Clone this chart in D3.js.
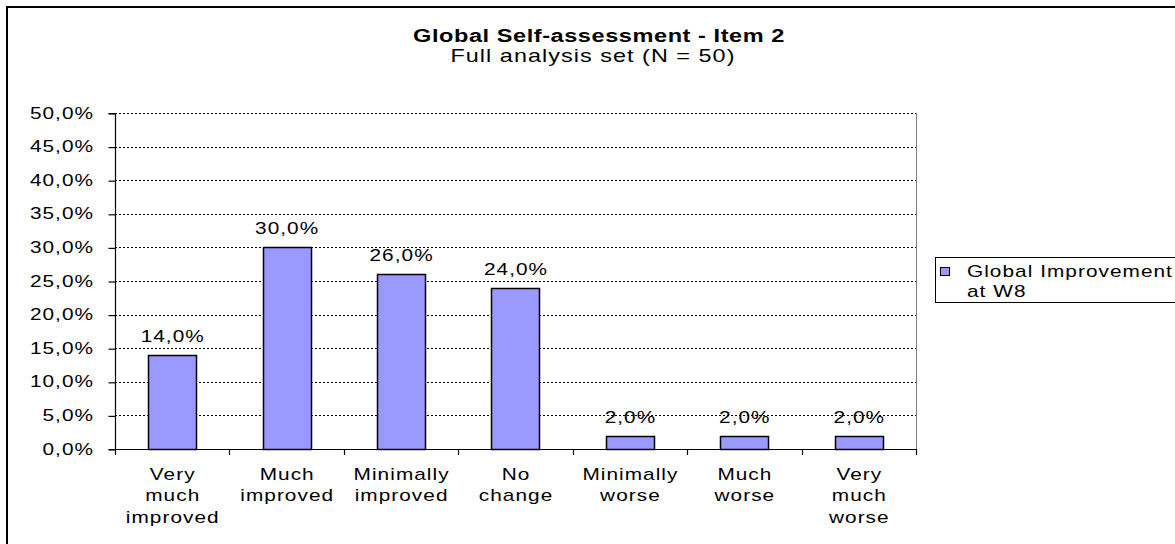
<!DOCTYPE html>
<html><head><meta charset="utf-8">
<script src="https://cdn.jsdelivr.net/npm/d3@7"></script>
<style>body{margin:0;background:#fff}svg{display:block;font-family:"Liberation Sans",Arial,sans-serif}
.t{font-size:16px;letter-spacing:0.8px}</style>
</head><body><svg id="c" width="1175" height="544"></svg>
<script>
const categories = [["Very","much","improved"],["Much","improved"],["Minimally","improved"],["No","change"],["Minimally","worse"],["Much","worse"],["Very","much","worse"]];
const values = [14.0, 30.0, 26.0, 24.0, 2.0, 2.0, 2.0];
const yTicks = [0,5,10,15,20,25,30,35,40,45,50];
const title = "Global Self-assessment - Item 2";
const subtitle = "Full analysis set (N = 50)";
const seriesName = ["Global Improvement","at W8"];

const svg = d3.select("#c");
const fmt = v => v.toFixed(1).replace(".", ",") + "%";
const L = 115, R = 916, T = 113, B = 449;
const SX = 1.3, LS = 0.8;

// horizontally stretched text helper
function sText(parent, x, y, lines, anchor, cls, sx) {
  const g = parent.append("g").attr("transform", `translate(${x},${y}) scale(${sx||SX},1)`);
  const t = g.append("text").attr("class", cls || "t").attr("text-anchor", anchor || "start");
  const arr = Array.isArray(lines) ? lines : [lines];
  arr.forEach((s,k)=>t.append("tspan").attr("x",0).attr("dy",k?21.5:0).text(s));
  return t;
}

svg.append("rect").attr("x",7).attr("y",7).attr("width",1180).attr("height",560)
  .attr("fill","#fff").attr("stroke","#000").attr("stroke-width",2);

sText(svg, 599, 42, title, "middle", null, 1.24).attr("class",null).attr("font-size",19).attr("font-weight","bold").attr("letter-spacing",0.45);
sText(svg, 593, 62, subtitle, "middle", null, 1.3).style("font-size","18px");

const x = d3.scaleBand().domain(d3.range(categories.length)).range([L,R]).paddingInner(0.58).paddingOuter(0.29);
const xb = d3.scaleBand().domain(d3.range(categories.length)).range([L,R]);
const y = d3.scaleLinear().domain([0,50]).range([B,T]);

// gridlines
svg.append("g").selectAll("line").data(yTicks.filter(d=>d>0)).join("line")
  .attr("x1",L).attr("x2",R).attr("y1",d=>Math.round(y(d))+0.5).attr("y2",d=>Math.round(y(d))+0.5)
  .attr("stroke","#000").attr("stroke-dasharray","2,2").attr("stroke-width",1);
// right border
svg.append("line").attr("x1",R+0.5).attr("x2",R+0.5).attr("y1",T).attr("y2",B)
  .attr("stroke","#808080").attr("stroke-width",1);

// bars
svg.append("g").selectAll("rect").data(values).join("rect")
  .attr("x",(d,i)=>Math.round(x(i))+0.5).attr("width",Math.round(x.bandwidth()))
  .attr("y",d=>Math.round(y(d))+0.5).attr("height",d=>B-Math.round(y(d)))
  .attr("fill","#9999FF").attr("stroke","#000").attr("stroke-width",1.5);

// value labels
const vl = svg.append("g");
values.forEach((d,i)=>sText(vl, x(i)+x.bandwidth()/2 + LS*SX/2, y(d)-13, fmt(d), "middle"));

// y axis
const ya = d3.axisLeft(y).tickValues(yTicks).tickSize(7).tickFormat("");
const gy = svg.append("g").attr("transform",`translate(${L+0.5},0.5)`).call(ya);
gy.selectAll("line,path").attr("stroke","#000").attr("stroke-width",1.2);
gy.select(".domain").attr("d",`M-7,${T}H0V${B}H-7`);
const yl = svg.append("g");
yTicks.forEach(v=>sText(yl, 93 + LS*SX, y(v)+5.5, fmt(v), "end"));

// x axis
svg.append("line").attr("x1",L).attr("x2",R+1).attr("y1",B+0.5).attr("y2",B+0.5).attr("stroke","#000").attr("stroke-width",1.2);
svg.append("g").selectAll("line").data(d3.range(categories.length+1)).join("line")
  .attr("x1",i=>Math.round(L+i*xb.step())+0.5).attr("x2",i=>Math.round(L+i*xb.step())+0.5)
  .attr("y1",B).attr("y2",B+6).attr("stroke","#000").attr("stroke-width",1.2);
const xl = svg.append("g");
categories.forEach((c,i)=>sText(xl, xb(i)+xb.bandwidth()/2 + LS*SX/2, 480, c, "middle"));

// legend
const lg = svg.append("g");
lg.append("rect").attr("x",935.5).attr("y",257.5).attr("width",260).attr("height",45)
  .attr("fill","#fff").attr("stroke","#000").attr("stroke-width",1);
lg.append("rect").attr("x",940.5).attr("y",267.5).attr("width",9).attr("height",8)
  .attr("fill","#9999FF").attr("stroke","#000").attr("stroke-width",1);
sText(lg, 967, 277, seriesName[0], "start");
sText(lg, 967, 297, seriesName[1], "start");
</script></body></html>
